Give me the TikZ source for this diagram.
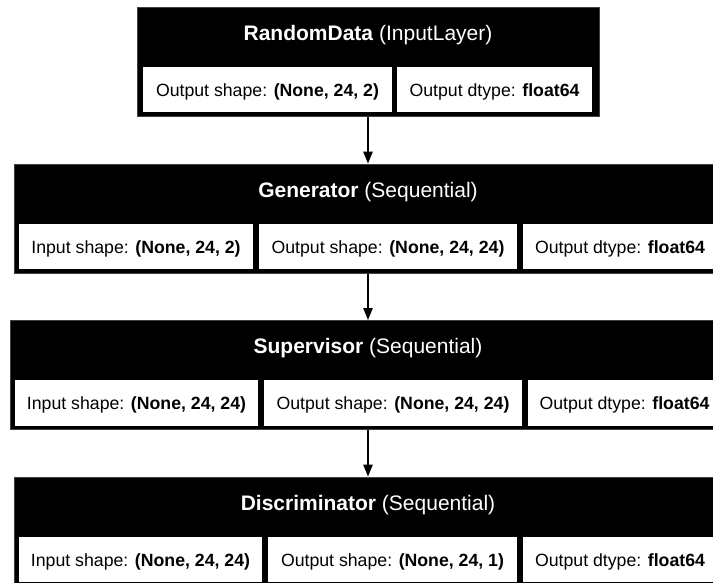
\documentclass[tikz,border=0pt]{standalone}
\usepackage{fontspec}
\setmainfont{Liberation Sans}
\usetikzlibrary{arrows.meta}

\tikzset{
  layerbox/.style={fill=black, draw=black!75, line width=1pt, inner sep=0pt},
  cellbox/.style={fill=white, draw=black, line width=1.3pt, inner sep=0pt,
    minimum height=47pt, text height=13pt, text depth=0pt,
    font=\fontsize{17.7}{20}\selectfont},
  titletext/.style={text=white, anchor=base, inner sep=0pt,
    font=\fontsize{21}{24}\selectfont},
  flow/.style={line width=1.3pt, -{Triangle[length=12pt,width=9.5pt]}},
}

\begin{document}
\begin{tikzpicture}[x=1pt, y=-1pt]
\useasboundingbox (0,0) rectangle (713,582);
\clip (0,0) rectangle (713,582);

% RandomData
\node[layerbox, minimum width=462pt, minimum height=109pt] (rd) at (368,61.5) {};
\node[titletext] (rdt) at (368,40) {\textbf{RandomData} (InputLayer)};
\node[cellbox, minimum width=251pt] (rd1) at (267.5,89.5) {Output shape: \textbf{(None, 24, 2)}};
\node[cellbox, minimum width=197pt] (rd2) at (494.5,89.5) {Output dtype: \textbf{float64}};

% Generator
\node[layerbox, minimum width=708pt, minimum height=109pt] (gen) at (368,218.5) {};
\node[titletext] (gent) at (368,197) {\textbf{Generator} (Sequential)};
\node[cellbox, minimum width=236pt] (gen1) at (136,246.5) {Input shape: \textbf{(None, 24, 2)}};
\node[cellbox, minimum width=260pt] (gen2) at (388,246.5) {Output shape: \textbf{(None, 24, 24)}};
\node[cellbox, minimum width=196pt] (gen3) at (620,246.5) {Output dtype: \textbf{float64}};

% Supervisor
\node[layerbox, minimum width=716pt, minimum height=109pt] (sup) at (368,375) {};
\node[titletext] (supt) at (368,353.5) {\textbf{Supervisor} (Sequential)};
\node[cellbox, minimum width=245pt] (sup1) at (136.5,403) {Input shape: \textbf{(None, 24, 24)}};
\node[cellbox, minimum width=260pt] (sup2) at (393,403) {Output shape: \textbf{(None, 24, 24)}};
\node[cellbox, minimum width=195pt] (sup3) at (624.5,403) {Output dtype: \textbf{float64}};

% Discriminator
\node[layerbox, minimum width=708pt, minimum height=109pt] (dis) at (368,531.5) {};
\node[titletext] (dist) at (368,510) {\textbf{Discriminator} (Sequential)};
\node[cellbox, minimum width=245pt] (dis1) at (140.5,559.5) {Input shape: \textbf{(None, 24, 24)}};
\node[cellbox, minimum width=251pt] (dis2) at (392.5,559.5) {Output shape: \textbf{(None, 24, 1)}};
\node[cellbox, minimum width=196pt] (dis3) at (620,559.5) {Output dtype: \textbf{float64}};

% Data flow between layers
\draw[flow] (rd.south) -- (gen.north);
\draw[flow] (gen.south) -- (sup.north);
\draw[flow] (sup.south) -- (dis.north);
\end{tikzpicture}
\end{document}
